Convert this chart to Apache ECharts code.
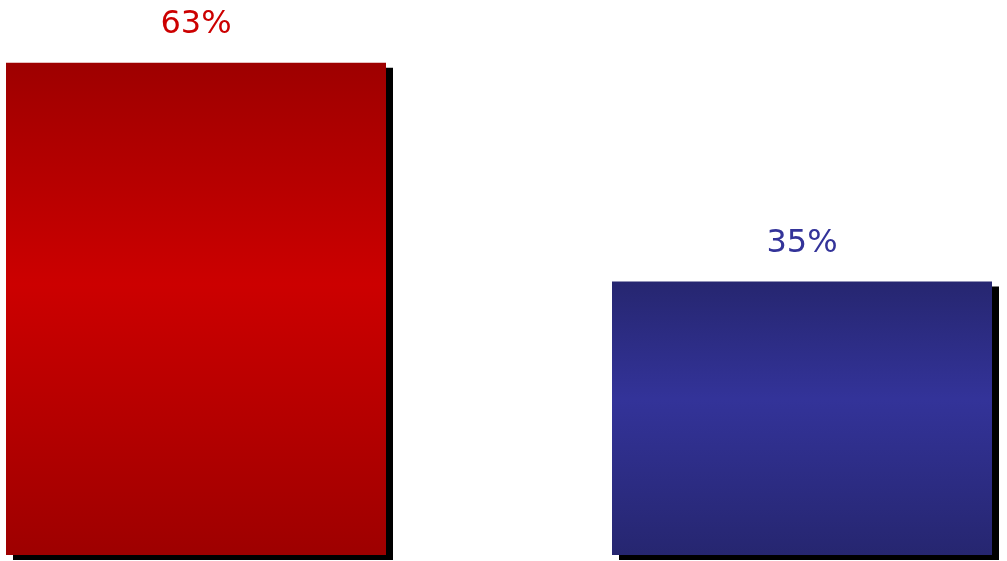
<!DOCTYPE html>
<html>
<head>
<meta charset="utf-8">
<script src="https://cdn.jsdelivr.net/npm/echarts@6/dist/echarts.min.js"></script>
<style>html,body{margin:0;padding:0;background:#fff;}#c{width:1007px;height:561px;}</style>
</head>
<body>
<div id="c"></div>
<script>
const categories = ['A', 'B'];
const values = [63, 35];
const labels = ['63%', '35%'];

const barStyles = [
  { dark: '#9e0000', light: '#cc0000', text: '#cc0000', mid: 0.45 },
  { dark: '#262670', light: '#333399', text: '#333399', mid: 0.43 }
];

const chart = echarts.init(document.getElementById('c'));
chart.setOption({
  animation: false,
  grid: { left: 196, right: 205, top: 8, bottom: 6 },
  xAxis: {
    type: 'category', data: categories, boundaryGap: false,
    axisLine: { show: false }, axisTick: { show: false }, axisLabel: { show: false }, splitLine: { show: false }
  },
  yAxis: {
    type: 'value', min: 0, max: 70,
    axisLine: { show: false }, axisTick: { show: false }, axisLabel: { show: false }, splitLine: { show: false }
  },
  series: [{
    type: 'bar',
    clip: false,
    barWidth: 380,
    data: values.map((v, i) => ({
      value: v,
      itemStyle: {
        color: new echarts.graphic.LinearGradient(0, 0, 0, 1, [
          { offset: 0, color: barStyles[i].dark },
          { offset: barStyles[i].mid, color: barStyles[i].light },
          { offset: 1, color: barStyles[i].dark }
        ]),
        shadowColor: '#000',
        shadowBlur: 0,
        shadowOffsetX: 7,
        shadowOffsetY: 5
      },
      label: {
        show: true, position: 'top', distance: 22,
        formatter: labels[i],
        color: barStyles[i].text,
        fontFamily: 'DejaVu Sans', fontSize: 32
      }
    }))
  }]
});
</script>
</body>
</html>
